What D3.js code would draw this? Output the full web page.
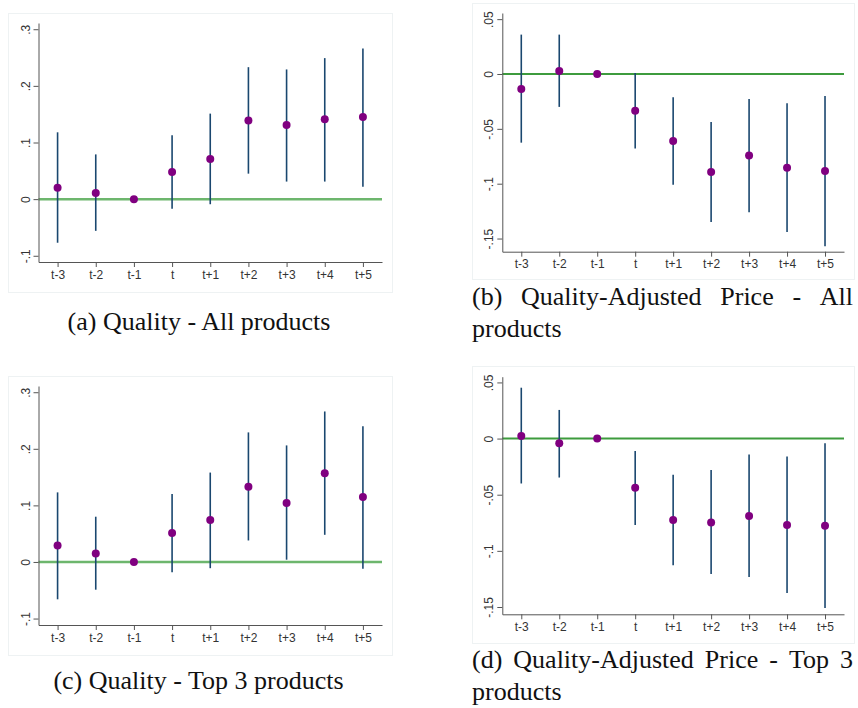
<!DOCTYPE html>
<html>
<head>
<meta charset="utf-8">
<script src="https://cdn.jsdelivr.net/npm/d3@7"></script>
<style>
    body { margin: 0; background: #fff; }
    .tick text { font-family: "Liberation Sans", Arial, sans-serif; font-size: 12px; fill: #333; }
    .caption { font-family: "Liberation Serif", "Times New Roman", serif; font-size: 26px; fill: #111; }
</style>
</head>
<body>
<svg id="chart" width="858" height="708"></svg>
<script>
// event-time categories
const periods = ["t-3", "t-2", "t-1", "t", "t+1", "t+2", "t+3", "t+4", "t+5"];

// y ticks (Stata style labels)
const qualityTicks = [-0.1, 0, 0.1, 0.2, 0.3];
const qualityTickLabels = ["-.1", "0", ".1", ".2", ".3"];
const priceTicks = [-0.15, -0.1, -0.05, 0, 0.05];
const priceTickLabels = ["-.15", "-.1", "-.05", "0", ".05"];

// (a) Quality - All products
const qualityAllCoef = [0.020, 0.011, 0, 0.048, 0.071, 0.139, 0.131, 0.141, 0.145];
const qualityAllLow  = [-0.077, -0.056, 0, -0.017, -0.009, 0.045, 0.031, 0.031, 0.022];
const qualityAllHigh = [0.118, 0.079, 0, 0.113, 0.151, 0.233, 0.229, 0.249, 0.266];

// (b) Quality-Adjusted Price - All products
const priceAllCoef = [-0.0137, 0.0027, 0, -0.0334, -0.061, -0.0894, -0.0742, -0.0854, -0.0884];
const priceAllLow  = [-0.0626, -0.030, 0, -0.068, -0.101, -0.135, -0.126, -0.144, -0.157];
const priceAllHigh = [0.0359, 0.0359, 0, 0.001, -0.0213, -0.0438, -0.0228, -0.0267, -0.020];

// (c) Quality - Top 3 products
const qualityTopCoef = [0.029, 0.015, 0, 0.051, 0.074, 0.133, 0.104, 0.157, 0.115];
const qualityTopLow  = [-0.066, -0.049, 0, -0.018, -0.011, 0.038, 0.004, 0.048, -0.012];
const qualityTopHigh = [0.123, 0.080, 0, 0.120, 0.158, 0.229, 0.206, 0.266, 0.240];

// (d) Quality-Adjusted Price - Top 3 products
const priceTopCoef = [0.0024, -0.0041, 0, -0.0439, -0.0726, -0.0747, -0.069, -0.077, -0.0776];
const priceTopLow  = [-0.040, -0.0347, 0, -0.077, -0.1129, -0.1206, -0.1233, -0.1375, -0.151];
const priceTopHigh = [0.0453, 0.0255, 0, -0.011, -0.0323, -0.0281, -0.0142, -0.016, -0.0041];

const captions = {
    a: ["(a) Quality - All products"],
    b: ["(b) Quality-Adjusted Price - All", "products"],
    c: ["(c) Quality - Top 3 products"],
    d: ["(d) Quality-Adjusted Price - Top 3", "products"]
};

const svg = d3.select("#chart");

let panels = [
    {
        coef: qualityAllCoef, low: qualityAllLow, high: qualityAllHigh,
        ticks: qualityTicks, labels: qualityTickLabels,
        box: [8, 13, 392, 292], xRange: [38.5, 382], yDomain: [-0.111, 0.311], yRange: [262, 23],
        zeroColor: "#6db66d", zeroWidth: 2.5
    },
    {
        coef: priceAllCoef, low: priceAllLow, high: priceAllHigh,
        ticks: priceTicks, labels: priceTickLabels,
        box: [472, 3, 854, 279], xRange: [502.3, 844], yDomain: [-0.162, 0.0556], yRange: [251.7, 13],
        zeroColor: "#3d9b3d", zeroWidth: 2
    },
    {
        coef: qualityTopCoef, low: qualityTopLow, high: qualityTopHigh,
        ticks: qualityTicks, labels: qualityTickLabels,
        box: [8, 376, 392, 655], xRange: [38.5, 382], yDomain: [-0.1114, 0.311], yRange: [625, 386],
        zeroColor: "#6db66d", zeroWidth: 2.5
    },
    {
        coef: priceTopCoef, low: priceTopLow, high: priceTopHigh,
        ticks: priceTicks, labels: priceTickLabels,
        box: [472, 366, 854, 643], xRange: [502.3, 844], yDomain: [-0.1565, 0.0551], yRange: [614.3, 376.7],
        zeroColor: "#3d9b3d", zeroWidth: 2
    }
];

panels.forEach(p => {
    let g = svg.append("g");
    let [bx0, by0, bx1, by1] = p.box;

    g.append("rect")
        .attr("x", bx0 + 0.5).attr("y", by0 + 0.5)
        .attr("width", bx1 - bx0).attr("height", by1 - by0)
        .attr("fill", "#fff")
        .attr("stroke", "#eef2f3");

    let x = d3.scalePoint().domain(periods).range(p.xRange).padding(0.5);
    let y = d3.scaleLinear().domain(p.yDomain).range(p.yRange);
    let data = periods.map((d, i) => ({ period: d, coef: p.coef[i], low: p.low[i], high: p.high[i] }));

    // zero reference line
    g.append("line")
        .attr("x1", p.xRange[0]).attr("x2", p.xRange[1])
        .attr("y1", y(0)).attr("y2", y(0))
        .attr("stroke", p.zeroColor)
        .attr("stroke-width", p.zeroWidth);

    // y axis
    let yAxis = g.append("g")
        .attr("transform", "translate(" + p.xRange[0] + ",0)")
        .call(d3.axisLeft(y).tickValues(p.ticks).tickFormat((d, i) => p.labels[i]).tickSize(5).tickSizeOuter(0));
    yAxis.selectAll(".tick text")
        .attr("x", 0).attr("y", 0).attr("dy", 0)
        .attr("text-anchor", "middle")
        .attr("transform", "translate(-9,0) rotate(-90)");

    // x axis
    g.append("g")
        .attr("transform", "translate(0," + p.yRange[0] + ")")
        .call(d3.axisBottom(x).tickSize(5).tickSizeOuter(0));

    g.selectAll(".domain, .tick line").attr("stroke", "#555");

    // confidence intervals
    g.selectAll(".ci")
        .data(data.filter(d => d.high !== d.low))
        .enter().append("line")
        .attr("class", "ci")
        .attr("x1", d => x(d.period)).attr("x2", d => x(d.period))
        .attr("y1", d => y(d.high)).attr("y2", d => y(d.low))
        .attr("stroke", "#1a476f")
        .attr("stroke-width", 1.6);

    // point estimates
    g.selectAll(".pt")
        .data(data)
        .enter().append("circle")
        .attr("class", "pt")
        .attr("cx", d => x(d.period))
        .attr("cy", d => y(d.coef))
        .attr("r", 4)
        .attr("fill", "#800080");
});

// captions: single-line ones centred, two-line ones justified
function centredCaption(lines, cx, baseline) {
    svg.append("text")
        .attr("class", "caption")
        .attr("x", cx).attr("y", baseline)
        .attr("text-anchor", "middle")
        .text(lines[0]);
}

function justifiedCaption(lines, x0, x1, baseline, lineHeight) {
    let words = lines[0].split(" ");
    let nodes = words.map(w => svg.append("text").attr("class", "caption").attr("y", baseline).text(w));
    let widths = nodes.map(n => n.node().getComputedTextLength());
    let gap = (x1 - x0 - d3.sum(widths)) / (words.length - 1);
    let cursor = x0;
    nodes.forEach((n, i) => {
        n.attr("x", cursor);
        cursor += widths[i] + gap;
    });
    svg.append("text")
        .attr("class", "caption")
        .attr("x", x0).attr("y", baseline + lineHeight)
        .text(lines[1]);
}

centredCaption(captions.a, 199, 330);
justifiedCaption(captions.b, 472, 853, 305, 32);
centredCaption(captions.c, 198.5, 689);
justifiedCaption(captions.d, 472, 853, 668, 32);
</script>
</body>
</html>
